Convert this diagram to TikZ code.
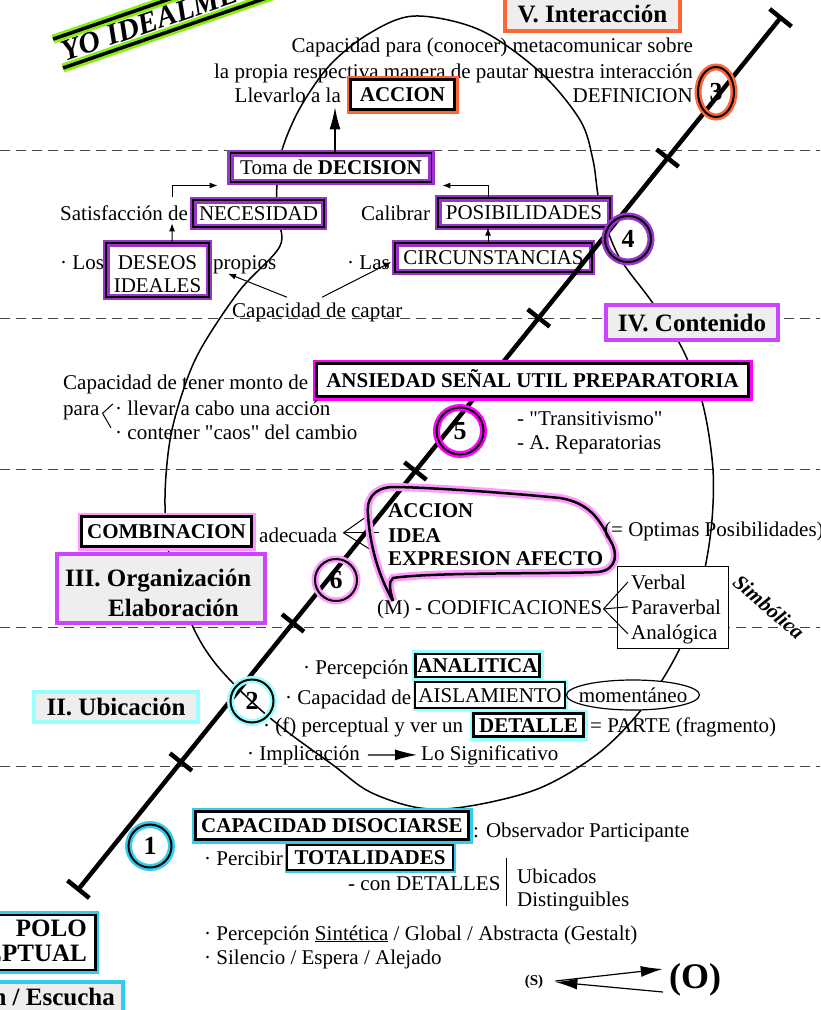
\documentclass[tikz,border=0pt]{standalone}
\usepackage{fontspec}
\setmainfont{Liberation Serif}
\usetikzlibrary{arrows.meta,shapes.geometric,calc}
\definecolor{orangeC}{HTML}{FF6633}
\definecolor{purpleC}{HTML}{9933CC}
\definecolor{violetC}{HTML}{CC44FF}
\definecolor{magentaC}{HTML}{FF00FF}
\definecolor{pinkC}{HTML}{FF99FF}
\definecolor{cyanL}{HTML}{99FFFF}
\definecolor{cyanD}{HTML}{33CCEE}
\definecolor{greenC}{HTML}{88EE11}
\definecolor{grayF}{HTML}{EEEEEE}
\definecolor{dashC}{HTML}{444444}
\newcommand\fsz{\fontsize{21}{24}\selectfont}
\newcommand\hsz{\fontsize{25}{28}\selectfont}
\tikzset{
  txt/.style={font=\fsz, inner sep=0pt, anchor=base west},
  txtr/.style={font=\fsz, inner sep=0pt, anchor=base east},
  obox/.style={draw=black, line width=2.4pt, fill=white, preaction={draw=#1, line width=8pt},
    font=\fsz\bfseries, inner sep=0pt, text height=14.5pt, text depth=0pt},
  tbox/.style={draw=black, line width=1.8pt, preaction={fill=white}, preaction={draw=#1, line width=6.5pt},
    font=\fsz, inner sep=0pt, text height=14.5pt, text depth=0pt},
  sbox/.style={draw=black, line width=1.2pt, fill=white, preaction={draw=#1, line width=5pt},
    font=\fsz, inner sep=0pt, text height=14.5pt, text depth=0pt},
  hbox/.style={draw=#1, line width=4.5pt, fill=grayF, font=\hsz\bfseries, inner sep=0pt,
    text height=17pt, text depth=0pt},
  cnum/.style={circle, draw=black, line width=2pt, preaction={draw=#1, line width=7pt},
    font=\fontsize{26}{28}\selectfont\bfseries, inner sep=0pt, minimum size=43pt},
  dline/.style={dash pattern=on 10pt off 6pt, line width=1pt, draw=dashC},
  axisline/.style={line width=4.5pt, {Bar[width=28pt]}-{Bar[width=28pt]}},
  tk/.style={line width=4.5pt},
  sm/.style={-{Latex[length=8pt,width=6pt]}, line width=1pt},
  bigarr/.style={-{Latex[length=22pt,width=11pt]}, line width=1.2pt},
  ban/.style={draw=black, line width=3.5pt, preaction={draw=greenC, line width=9pt}},
  bub/.style={draw=black, line width=2.5pt, line join=round, preaction={draw=pinkC, line width=8pt}},
}
\begin{document}
\begin{tikzpicture}[x=1pt,y=-1pt]
\useasboundingbox (0,0) rectangle (820,1010);

% dashed separators
\foreach \yy in {150,318,469,627,766} \draw[dline] (0,\yy) -- (820,\yy);

% egg outline
\draw[line width=1.5pt] plot[smooth cycle, tension=0.55] coordinates {
 (415,16) (480,30) (540,72) (580,120) (593,160) (600,205) (618,255) (652,302)
 (683,350) (703,405) (713,470) (711,530) (700,590) (680,648) (645,705) (600,752)
 (540,788) (470,806) (420,808) (370,792) (333,765) (285,730) (250,700) (215,663)
 (193,627) (172,570) (165,505) (170,440) (185,385) (203,345) (240,290) (280,246)
 (277,215) (277,185) (282,150) (300,108) (330,65) (370,33)};

% banner
\node[font=\fontsize{30}{32}\selectfont\bfseries\itshape, rotate=19, anchor=south west,
  inner xsep=4pt, inner ysep=5pt] (yo) at (63,68) {YO IDEALMENTE};
\draw[ban] (yo.north west) -- (yo.north east);
\draw[ban] (yo.south west) -- (yo.south east);

% top texts
\node[hbox=orangeC, minimum width=175, minimum height=34] (v) at (592.5,14) {V. Interacción};
\node[txtr] (l1) at (693,52) {Capacidad para (conocer) metacomunicar sobre};
\node[txtr] (l2) at (693,78) {la propia respectiva manera de pautar nuestra interacción};
\node[txtr] (llev) at (341,102) {Llevarlo a la};
\node[obox=orangeC, minimum width=104, minimum height=30] (acc) at (402.5,94.5) {ACCION};
\node[txtr] (defi) at (693,102) {DEFINICION};

% decision block
\node[tbox=purpleC, minimum width=201, minimum height=28.5] (dec) at (331,167.5) {Toma de \textbf{DECISION}};
\node[txt] (sat) at (60,220) {Satisfacción de};
\node[tbox=purpleC, minimum width=130.5, minimum height=26.5] (nec) at (258.5,213.5) {NECESIDAD};
\node[txt] (cal) at (361,220) {Calibrar};
\node[tbox=purpleC, minimum width=171.5, minimum height=28.5] (pos) at (524,212.5) {POSIBILIDADES};
\node[txt] (los) at (60,269) {· Los};
\node[tbox=purpleC, minimum width=102.5, minimum height=53.5] (des) at (157.5,270) {};
\node[txt, anchor=base] (des1) at (157.5,269) {DESEOS};
\node[txt, anchor=base] (des2) at (157.5,292) {IDEALES};
\node[txt] (prop) at (213,269) {propios};
\node[txt] (las) at (347,269) {· Las};
\node[tbox=purpleC, minimum width=196.5, minimum height=28.5] (cir) at (493.5,257.5) {CIRCUNSTANCIAS};
\node[txt] (capt) at (232,317) {Capacidad de captar};

\draw[bigarr] ($(dec.north)+(4,0)$) -- ($(llev.south east)+(-6,5)$);
\draw[sm] ($(sat.north east)+(-16,-8)$) |- ($(dec.west)+(-12,18)$);
\draw[sm] ($(des.north)+(14.5,0)$) -- ($(sat.south east)+(-16,3)$);
\draw[sm] ($(pos.north)+(-36,0)$) |- ($(dec.east)+(10,18)$);
\draw[sm] ($(cir.north)+(-5.5,0)$) -- ($(pos.south)+(-36,0)$);
\draw[sm] ($(capt.north west)+(55,-5)$) -- ($(prop.south west)+(15,0)$);
\draw[sm] ($(capt.north west)+(90,-5)$) -- ($(cir.west)+(-3,4.5)$);

% axis
\coordinate (axA) at (77,891);
\coordinate (axB) at (782,16);
\draw[axisline] (axA) -- (axB);
\foreach \t in {0.8377,0.6549,0.48,0.3063,0.1474}
  \draw[tk] ($(axA)!\t!(axB)+(-11,-8.7)$) -- ($(axA)!\t!(axB)+(11,8.7)$);

% contenido
\node[hbox=violetC, minimum width=172, minimum height=35] (iv) at (692,322.5) {IV. Contenido};
\node[txt] (mon) at (63,389) {Capacidad de tener monto de};
\node[obox=magentaC, minimum width=432, minimum height=33] (ans) at (532.5,380) {ANSIEDAD SEÑAL UTIL PREPARATORIA};
\node[txt] (para) at (63,415) {para};
\node[txt] (ll1) at (115,415) {· llevar a cabo una acción};
\node[txt] (ll2) at (115,439) {· contener \textquotedbl caos\textquotedbl{} del cambio};
\coordinate (pb) at ($(para.east)+(3,1)$);
\draw[line width=1pt] (pb) -- ($(ll1.west)+(-2,-4)$);
\draw[line width=1pt] (pb) -- ($(ll2.west)+(-4,-4)$);
\node[txt] (tr) at (517,425) {- \textquotedbl Transitivismo\textquotedbl};
\node[txt] (rep) at (517,449) {- A. Reparatorias};

% organizacion
\node[obox=pinkC, minimum width=170, minimum height=30] (comb) at (166.5,531.5) {COMBINACION};
\node[txt] (adec) at (259,542) {adecuada};
\coordinate (ab) at ($(adec.east)+(6,-2)$);
\draw[line width=1pt] (ab) -- +(24,-17);
\draw[line width=1pt] (ab) -- +(35,0);
\draw[line width=1pt] (ab) -- +(29,18);
\draw[bub] (393,601) .. controls (390,590) and (388,582) .. (393,578)
  .. controls (430,572) and (560,574) .. (598,572)
  .. controls (618,570) and (618,552) .. (610,540)
  .. controls (600,520) and (590,503) .. (560,498)
  .. controls (500,492) and (420,487) .. (392,487)
  .. controls (373,488) and (366,500) .. (368,515)
  .. controls (370,545) and (378,575) .. (393,601);
\node[txt, font=\fsz\bfseries] (b1) at (388,517) {ACCION};
\node[txt, font=\fsz\bfseries] (b2) at (388,542) {IDEA};
\node[txt, font=\fsz\bfseries] (b3) at (388,565) {EXPRESION AFECTO};
\node[txt] (opt) at (604,536) {(= Optimas Posibilidades)};
\node[txt] (cod) at (377,614) {(M) - CODIFICACIONES};
\node[draw, line width=1pt, fill=white, minimum width=111, minimum height=82, inner sep=0pt] (vbx) at (672.5,607) {};
\node[txt] (verb) at (631,589) {Verbal};
\node[txt] (parav) at (631,614) {Paraverbal};
\node[txt] (anal) at (631,639) {Analógica};
\coordinate (cb) at ($(cod.east)+(1,0)$);
\draw[line width=1pt] (cb) -- ($(verb.west)+(-3,0)$);
\draw[line width=1pt] (cb) -- ($(parav.west)+(-3,0)$);
\draw[line width=1pt] (cb) -- ($(anal.west)+(-3,0)$);
\node[font=\fontsize{21}{23}\selectfont\bfseries\itshape, rotate=-41, inner sep=0pt] (simb) at (769,607) {Simbólica};
\node[hbox=violetC, minimum width=208, minimum height=69] (iii) at (161,588.5) {};
\node[font=\hsz\bfseries, anchor=base west, inner sep=0pt] (iii1) at (65,586) {III. Organización};
\node[font=\hsz\bfseries, anchor=base west, inner sep=0pt] (iii2) at (108,616) {Elaboración};

% ubicacion
\node[hbox=cyanL, minimum width=164, minimum height=30] (ii) at (116,707) {II. Ubicación};
\node[txt] (perc) at (303,674) {· Percepción};
\node[obox=cyanL, minimum width=124, minimum height=23] (ana) at (477.5,665.5) {ANALITICA};
\node[txt] (capd) at (285,704) {· Capacidad de};
\node[sbox=cyanL, minimum width=150, minimum height=26] (ais) at (490,695) {AISLAMIENTO};
\node[draw, line width=1.2pt, fill=white, ellipse, minimum width=133, minimum height=30, inner sep=0pt] (mom) at (633,695) {};
\node[font=\fsz, inner sep=0pt, anchor=base] (momt) at (633,702) {momentáneo};
\node[txt] (fp) at (263,732) {· (f) perceptual y ver un};
\node[obox=cyanL, minimum width=110, minimum height=23] (det) at (528.5,725) {DETALLE};
\node[txt] (par) at (590,732) {= PARTE (fragmento)};
\node[txt] (impl) at (247,760) {· Implicación};
\node[txt] (lsig) at (421,760) {Lo Significativo};
\draw[bigarr] ($(impl.east)+(8,0)$) -- ($(lsig.west)+(-4,0)$);

% bottom
\node[obox=cyanD, minimum width=273, minimum height=28] (cds) at (332,825.5) {CAPACIDAD DISOCIARSE};
\node[txt] (obs) at (473,837) {: Observador Participante};
\node[txt] (pcb) at (204,865) {· Percibir};
\node[sbox=cyanD, font=\fsz\bfseries, minimum width=166, minimum height=25] (tot) at (370,857.5) {TOTALIDADES};
\node[txt] (cdet) at (348,890) {- con DETALLES};
\draw[line width=1pt] ($(cdet.east)+(6,-25)$) -- ($(cdet.east)+(6,23)$);
\node[txt] (ubi) at (517,883) {Ubicados};
\node[txt] (dist) at (517,906) {Distinguibles};
\node[txt] (psint) at (204,940) {· Percepción \underline{Sintética} / Global / Abstracta (Gestalt)};
\node[txt] (sil) at (204,964) {· Silencio / Espera / Alejado};
\node[font=\fontsize{15}{17}\selectfont\bfseries, inner sep=0pt] (S) at (534,982) {(S)};
\node[font=\fontsize{36}{38}\selectfont\bfseries, inner sep=0pt] (O) at (695,980) {(O)};
\draw[bigarr] ($(S.east)+(12,-1)$) -- ($(O.west)+(-6,-11)$);
\draw[bigarr] ($(O.west)+(-6,12)$) -- ($(S.east)+(12,0)$);

\node[obox=cyanD, minimum width=125, minimum height=55, anchor=north east] (polo) at (96.5,913.5) {};
\node[font=\hsz\bfseries, anchor=base east, inner sep=0pt] (polo1) at (87,936) {POLO};
\node[font=\hsz\bfseries, anchor=base east, inner sep=0pt] (polo2) at (87,961) {PERCEPTUAL};
\node[hbox=cyanD, minimum width=150, minimum height=40, anchor=north east] (esc) at (125,979.5) {};
\node[font=\hsz\bfseries, anchor=base east, inner sep=0pt] (esct) at (115,1005) {n / Escucha};

% circled numbers
\node[cnum=orangeC, ellipse, minimum width=36pt, minimum height=50pt] (c3) at (716,92) {3};
\node[cnum=purpleC, minimum size=46pt] (c4) at (628,239) {4};
\node[cnum=magentaC, minimum size=47pt] (c5) at (460,431) {5};
\node[cnum=pinkC, minimum size=42pt] (c6) at (336,580) {6};
\node[cnum=cyanL, minimum size=43pt] (c2) at (252,701) {2};
\node[cnum=cyanD, minimum size=43pt] (c1) at (150,846) {1};
\end{tikzpicture}
\end{document}
